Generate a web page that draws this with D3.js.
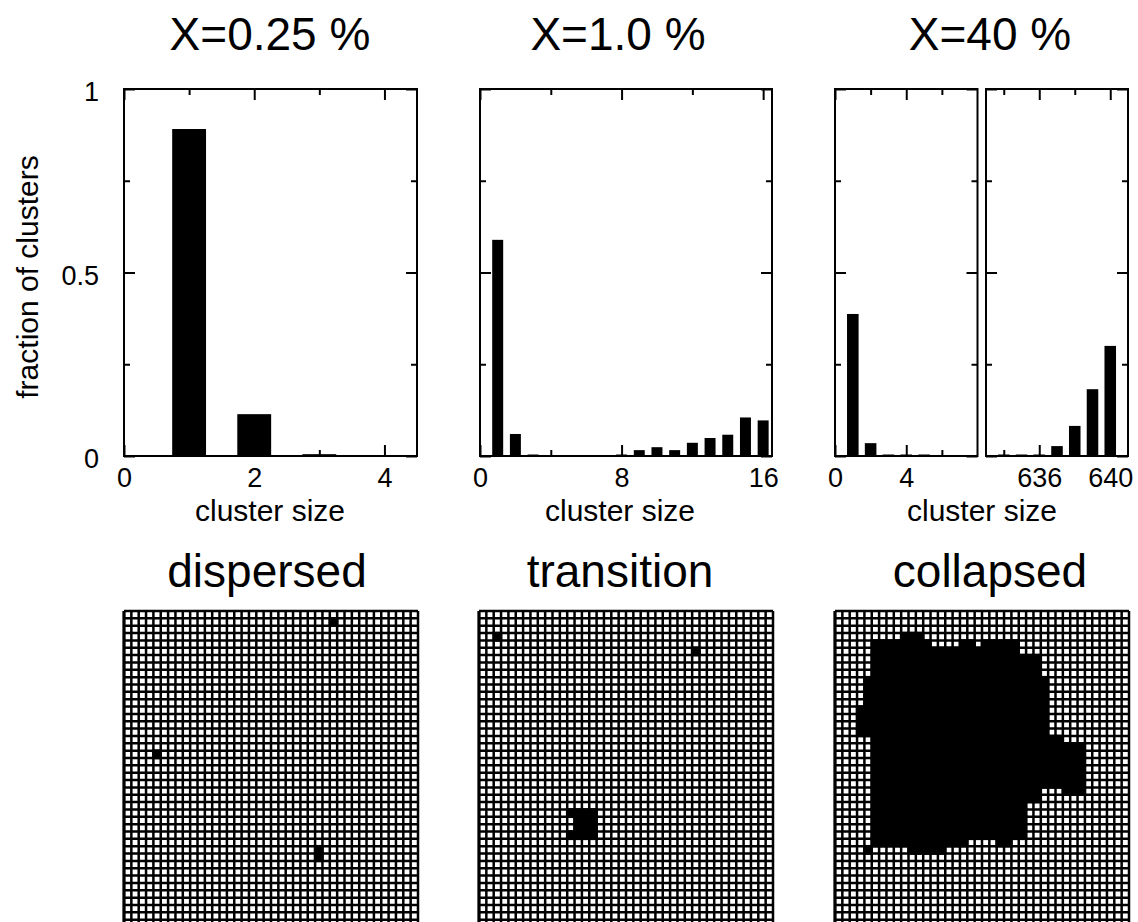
<!DOCTYPE html>
<html>
<head>
<meta charset="utf-8">
<script src="https://cdn.jsdelivr.net/npm/d3@7"></script>
<style>
body { margin: 0; background: #fff; }
svg { display: block; }
</style>
</head>
<body>
<div id="graph"></div>
<script>
// titles
var titles = ["X=0.25 %", "X=1.0 %", "X=40 %"];
var states = ["dispersed", "transition", "collapsed"];

// cluster size distributions
var size1 = [1, 2, 3, 4];
var frac1 = [0.891, 0.114, 0.005, 0];

var size2 = [1, 2, 3, 4, 5, 6, 7, 8, 9, 10, 11, 12, 13, 14, 15, 16];
var frac2 = [0.589, 0.060, 0.003, 0, 0, 0, 0, 0.003, 0.016, 0.024, 0.016, 0.036, 0.049, 0.058, 0.105, 0.097];

var size3a = [1, 2, 3, 4, 5];
var frac3a = [0.387, 0.035, 0.004, 0.003, 0.003];
var size3b = [634, 635, 636, 637, 638, 639, 640];
var frac3b = [0.002, 0.002, 0.004, 0.027, 0.082, 0.182, 0.300];

// ticks
var yMajor = [0, 0.5, 1];
var yMinor = [0.25, 0.75];
var xMajor1 = [0, 2, 4], xMinor1 = [1, 3];
var xMajor2 = [0, 8, 16], xMinor2 = [4, 12];
var xMajor3a = [0, 4], xMinor3a = [2, 6];
var xMajor3b = [636, 640], xMinor3b = [634, 638];

// lattice snapshots, occupied runs: [row, first column, last column]
var dispersedRuns = [[1, 28, 28], [19, 4, 4], [32, 26, 26], [33, 26, 26]];
var transitionRuns = [[3, 2, 2], [5, 29, 29], [27, 12, 15], [28, 13, 15], [29, 13, 15], [30, 12, 15]];
var collapsedRuns = [
  [3, 9, 11],
  [4, 5, 12], [4, 17, 18], [4, 20, 24],
  [5, 5, 24],
  [6, 5, 27], [7, 5, 27], [8, 5, 27],
  [9, 4, 28], [10, 4, 28], [11, 4, 28], [12, 4, 28],
  [13, 3, 28], [14, 3, 28], [15, 3, 28], [16, 3, 28],
  [17, 5, 30],
  [18, 5, 33], [19, 5, 33], [20, 5, 33], [21, 5, 33], [22, 5, 33], [23, 5, 33],
  [24, 5, 27], [24, 31, 33],
  [25, 5, 27],
  [26, 5, 25], [27, 5, 25], [28, 5, 25], [29, 5, 25], [30, 5, 25],
  [31, 5, 17], [31, 22, 23],
  [32, 10, 14], [32, 4, 4]
];

var FONT = "'Liberation Sans', Arial, Helvetica, sans-serif";
var TOP = 89, BOTTOM = 456;

var svg = d3.select("#graph")
  .append("svg")
  .attr("width", 1138)
  .attr("height", 922)
  .style("font-family", FONT);

var y = d3.scaleLinear().domain([0, 1]).range([BOTTOM, TOP]);

function styleAxis(g) {
  g.select(".domain").remove();
  g.attr("font-family", FONT).attr("font-size", 27);
  g.selectAll("line").attr("stroke", "#000").attr("stroke-width", 2);
  g.selectAll("text").attr("fill", "#000");
}

function panel(o) {
  var x = d3.scaleLinear().domain(o.domain).range(o.range);
  var g = svg.append("g");
  var data = o.sizes.map(function (s, i) { return { s: s, v: o.fracs[i] }; })
    .filter(function (d) { return d.v > 0; });

  g.selectAll("rect.bar")
    .data(data)
    .enter()
    .append("rect")
    .attr("class", "bar")
    .attr("x", function (d) { return x(d.s - o.barW / 2); })
    .attr("width", function (d) { return x(d.s + o.barW / 2) - x(d.s - o.barW / 2); })
    .attr("y", function (d) { return Math.min(y(d.v), BOTTOM - 1.5); })
    .attr("height", function (d) { return BOTTOM - Math.min(y(d.v), BOTTOM - 1.5); })
    .attr("fill", "#000");

  // bottom ticks + labels
  g.append("g").attr("transform", "translate(0," + BOTTOM + ")")
    .call(d3.axisBottom(x).tickValues(o.xMajor).tickSize(-11).tickPadding(12).tickFormat(d3.format("d")))
    .call(styleAxis);
  g.append("g").attr("transform", "translate(0," + BOTTOM + ")")
    .call(d3.axisBottom(x).tickValues(o.xMinor).tickSize(-6).tickFormat(""))
    .call(styleAxis);
  // top ticks
  g.append("g").attr("transform", "translate(0," + TOP + ")")
    .call(d3.axisTop(x).tickValues(o.xMajor).tickSize(-11).tickFormat(""))
    .call(styleAxis);
  g.append("g").attr("transform", "translate(0," + TOP + ")")
    .call(d3.axisTop(x).tickValues(o.xMinor).tickSize(-6).tickFormat(""))
    .call(styleAxis);
  // left / right ticks
  var left = g.append("g").attr("transform", "translate(" + o.range[0] + ",0)")
    .call(d3.axisLeft(y).tickValues(yMajor).tickSize(-11).tickPadding(25)
      .tickFormat(o.yLabels ? function (d) { return d; } : ""))
    .call(styleAxis);
  left.selectAll("text").attr("dy", "0.44em");
  g.append("g").attr("transform", "translate(" + o.range[0] + ",0)")
    .call(d3.axisLeft(y).tickValues(yMinor).tickSize(-6).tickFormat(""))
    .call(styleAxis);
  g.append("g").attr("transform", "translate(" + o.range[1] + ",0)")
    .call(d3.axisRight(y).tickValues(yMajor).tickSize(-11).tickFormat(""))
    .call(styleAxis);
  g.append("g").attr("transform", "translate(" + o.range[1] + ",0)")
    .call(d3.axisRight(y).tickValues(yMinor).tickSize(-6).tickFormat(""))
    .call(styleAxis);

  g.append("rect")
    .attr("x", o.range[0]).attr("y", TOP)
    .attr("width", o.range[1] - o.range[0]).attr("height", BOTTOM - TOP)
    .attr("fill", "none").attr("stroke", "#000").attr("stroke-width", 2);
}

panel({ domain: [0, 4.5], range: [124, 417], sizes: size1, fracs: frac1, barW: 0.52,
  xMajor: xMajor1, xMinor: xMinor1, yLabels: true });
panel({ domain: [0, 16.5], range: [480, 772], sizes: size2, fracs: frac2, barW: 0.62,
  xMajor: xMajor2, xMinor: xMinor2 });
panel({ domain: [0, 8], range: [835, 977.5], sizes: size3a, fracs: frac3a, barW: 0.65,
  xMajor: xMajor3a, xMinor: xMinor3a });
panel({ domain: [633, 641], range: [986, 1128], sizes: size3b, fracs: frac3b, barW: 0.65,
  xMajor: xMajor3b, xMinor: xMinor3b });

// titles and axis names
var titleX = [270, 618, 990];
svg.selectAll("text.title")
  .data(titles)
  .enter()
  .append("text")
  .attr("x", function (d, i) { return titleX[i]; })
  .attr("y", 50)
  .attr("text-anchor", "middle")
  .attr("font-size", 46)
  .text(function (d) { return d; });

var nameX = [270, 620, 982];
svg.selectAll("text.xname")
  .data(nameX)
  .enter()
  .append("text")
  .attr("x", function (d) { return d; })
  .attr("y", 521)
  .attr("text-anchor", "middle")
  .attr("font-size", 30)
  .text("cluster size");

svg.append("text")
  .attr("transform", "translate(38,277) rotate(-90)")
  .attr("text-anchor", "middle")
  .attr("font-size", 30)
  .text("fraction of clusters");

var stateX = [267, 620, 990];
svg.selectAll("text.state")
  .data(states)
  .enter()
  .append("text")
  .attr("x", function (d, i) { return stateX[i]; })
  .attr("y", 587)
  .attr("text-anchor", "middle")
  .attr("font-size", 46)
  .text(function (d) { return d; });

// lattice snapshots
var N = 40, ROWS = 44, GTOP = 611, GSIZE = 294, LW = 2.5;

function lattice(left, runs) {
  var gx = d3.scaleLinear().domain([0, N]).range([left, left + GSIZE]);
  var gy = d3.scaleLinear().domain([0, N]).range([GTOP, GTOP + GSIZE]);
  var g = svg.append("g");
  var sites = [];
  runs.forEach(function (r) {
    for (var c = r[1]; c <= r[2]; c++) sites.push({ c: c, r: r[0] });
  });

  g.selectAll("line.v")
    .data(d3.range(N + 1))
    .enter()
    .append("line")
    .attr("x1", function (d) { return gx(d); })
    .attr("x2", function (d) { return gx(d); })
    .attr("y1", GTOP).attr("y2", 922)
    .attr("stroke", "#000").attr("stroke-width", LW);
  g.selectAll("line.h")
    .data(d3.range(ROWS))
    .enter()
    .append("line")
    .attr("x1", left).attr("x2", left + GSIZE)
    .attr("y1", function (d) { return gy(d); })
    .attr("y2", function (d) { return gy(d); })
    .attr("stroke", "#000").attr("stroke-width", LW);

  g.selectAll("rect.site")
    .data(sites)
    .enter()
    .append("rect")
    .attr("x", function (d) { return gx(d.c) - LW / 2; })
    .attr("y", function (d) { return gy(d.r) - LW / 2; })
    .attr("width", gx(1) - gx(0) + LW)
    .attr("height", gy(1) - gy(0) + LW)
    .attr("fill", "#000");

  g.append("line")
    .attr("x1", left).attr("x2", left)
    .attr("y1", GTOP).attr("y2", 922)
    .attr("stroke", "#000").attr("stroke-width", 3);
}

lattice(124, dispersedRuns);
lattice(479, transitionRuns);
lattice(835, collapsedRuns);
</script>
</body>
</html>
